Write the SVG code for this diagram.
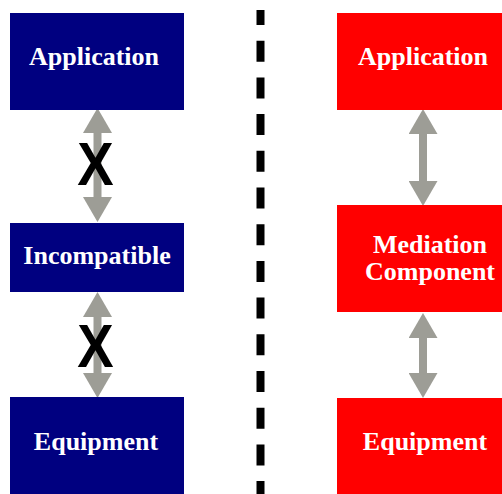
<svg xmlns="http://www.w3.org/2000/svg" width="502" height="494" viewBox="0 0 502 494">
  <style>
    .left { fill: #000080; }
    .right { fill: #ff0000; }
    .label { font-family: "Liberation Serif", "Times New Roman", serif; font-weight: bold; font-size: 26px; fill: #ffffff; text-anchor: middle; }
    .link { stroke: #9d9d96; stroke-width: 8; fill: none; marker-start: url(#head); marker-end: url(#head); }
    .cross { font-family: "Liberation Sans", Arial, sans-serif; font-weight: bold; font-size: 62px; fill: #000000; text-anchor: middle; }
    .divider { stroke: #000000; stroke-width: 8; stroke-dasharray: 21 15.7; stroke-dashoffset: 6; }
  </style>
  <defs>
    <marker id="head" viewBox="0 0 25 29" refX="0" refY="14.5" markerWidth="25" markerHeight="29" markerUnits="userSpaceOnUse" orient="auto-start-reverse">
      <path d="M0,0 L25,14.5 L0,29 Z" fill="#9d9d96"/>
    </marker>
  </defs>

  <rect width="502" height="494" fill="#ffffff"/>

  <!-- separator between the two stacks -->
  <line class="divider" x1="260.5" y1="10" x2="260.5" y2="494"/>

  <!-- connectors -->
  <g id="connectors">
    <line class="link" x1="97.5" y1="133" x2="97.5" y2="197"/>
    <line class="link" x1="97.5" y1="317" x2="97.5" y2="373"/>
    <line class="link" x1="423" y1="134" x2="423" y2="181"/>
    <line class="link" x1="423" y1="338" x2="423" y2="373"/>
    <text class="cross" transform="translate(95.5,185) scale(0.88,1)">X</text>
    <text class="cross" transform="translate(95.5,367) scale(0.88,1)">X</text>
  </g>

  <!-- left stack -->
  <g id="left-application">
    <rect class="left" x="10" y="13" width="174" height="97"/>
    <text class="label" x="94" y="65">Application</text>
  </g>
  <g id="left-incompatible">
    <rect class="left" x="10" y="223" width="174" height="69"/>
    <text class="label" x="97" y="264">Incompatible</text>
  </g>
  <g id="left-equipment">
    <rect class="left" x="10" y="397" width="174" height="97"/>
    <text class="label" x="96" y="450">Equipment</text>
  </g>

  <!-- right stack -->
  <g id="right-application">
    <rect class="right" x="337" y="13" width="174" height="97"/>
    <text class="label" x="423" y="65">Application</text>
  </g>
  <g id="right-mediation">
    <rect class="right" x="337" y="205" width="174" height="107"/>
    <text class="label" x="430" y="253">Mediation</text>
    <text class="label" x="430" y="280">Component</text>
  </g>
  <g id="right-equipment">
    <rect class="right" x="337" y="398" width="174" height="96"/>
    <text class="label" x="425" y="450">Equipment</text>
  </g>
</svg>
